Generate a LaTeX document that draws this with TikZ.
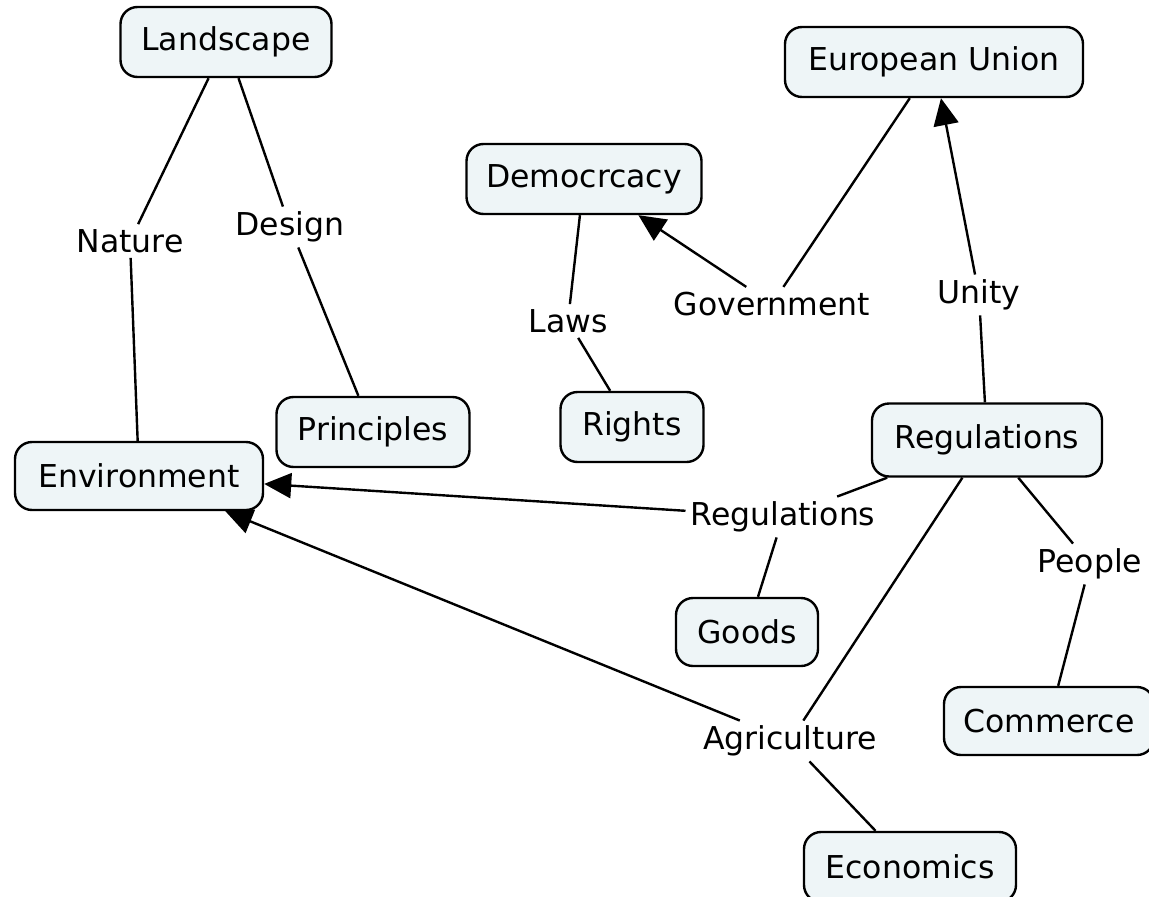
\documentclass[tikz,border=0pt]{standalone}
\usepackage{fontspec}
\setmainfont{DejaVu Sans}
\usetikzlibrary{arrows.meta}
\definecolor{boxfill}{HTML}{EEF5F7}
\tikzset{
  concept/.style={draw=black, line width=2.4pt, fill=boxfill, rounded corners=17pt,
    minimum height=70pt, inner sep=0pt, font=\fontsize{31.5}{36}\selectfont},
  lbl/.style={inner sep=5pt, font=\fontsize{31.5}{36}\selectfont, fill=white},
  link/.style={line width=2.4pt, draw=black},
  arr/.style={link, -{Triangle[length=27pt,width=25pt]}}
}
\begin{document}
\begin{tikzpicture}[x=1pt,y=-1pt]
\useasboundingbox (0,0) rectangle (1149,897);
\clip (0,0) rectangle (1149,897);
% concepts
\node[concept, minimum width=211pt] (landscape) at (226,42) {Landscape};
\node[concept, minimum width=298pt] (eu) at (934,62) {European Union};
\node[concept, minimum width=235pt] (demo) at (584,179) {Democrcacy};
\node[concept, minimum width=193pt] (principles) at (373,432) {Principles};
\node[concept, minimum width=143pt] (rights) at (632,427) {Rights};
\node[concept, minimum width=248pt, minimum height=68pt] (env) at (139,476) {Environment};
\node[concept, minimum width=230pt, minimum height=73pt] (regs) at (987,440) {Regulations};
\node[concept, minimum width=142pt, minimum height=68pt] (goods) at (747,632) {Goods};
\node[concept, minimum width=210pt, minimum height=68pt] (commerce) at (1049,721) {Commerce};
\node[concept, minimum width=212pt] (econ) at (910,867) {Economics};
% labels
\node[lbl] (nature) at (130,241) {Nature};
\node[lbl] (design) at (290,227) {Design};
\node[lbl] (laws) at (568,321) {Laws};
\node[lbl] (gov) at (772,304) {Government};
\node[lbl] (unity) at (979,295) {Unity};
\node[lbl] (reglbl) at (783,517) {Regulations};
\node[lbl] (people) at (1090,564) {People};
\node[lbl] (agri) at (790,741) {Agriculture};
% links
\draw[link] (landscape) -- (nature);
\draw[link] (nature) -- (env);
\draw[link] (landscape) -- (design);
\draw[link] (design) -- (principles);
\draw[link] (demo) -- (laws);
\draw[link] (laws) -- (rights);
\draw[link] (eu) -- (gov);
\draw[arr] (gov) -- (demo);
\draw[link] (regs) -- (unity);
\draw[arr] (unity) -- (eu);
\draw[link] (regs) -- (reglbl);
\draw[arr] (reglbl) -- (env);
\draw[link] (reglbl) -- (goods);
\draw[link] (regs) -- (agri);
\draw[arr] (agri) -- (env);
\draw[link] (agri) -- (econ);
\draw[link] (regs) -- (people);
\draw[link] (people) -- (commerce);
\end{tikzpicture}
\end{document}
